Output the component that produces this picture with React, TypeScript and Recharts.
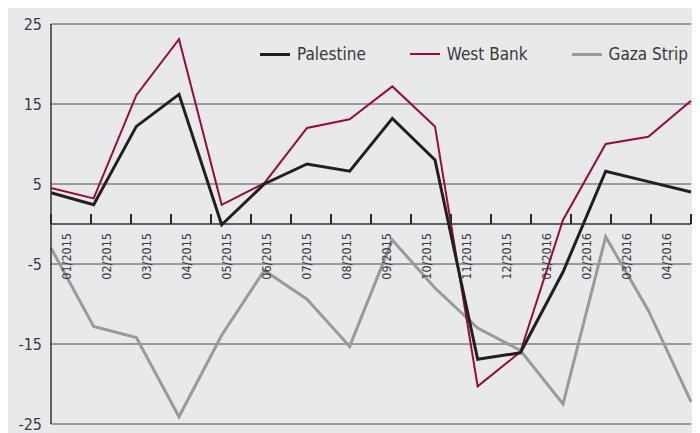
import { LineChart, Line, XAxis, YAxis, CartesianGrid, ReferenceLine } from 'recharts';

const months = [
  '01/2015', '02/2015', '03/2015', '04/2015', '05/2015', '06/2015', '07/2015', '08/2015',
  '09/2015', '10/2015', '11/2015', '12/2015', '01/2016', '02/2016', '03/2016', '04/2016',
];
const palestine = [3.9, 2.4, 12.2, 16.2, -0.1, 5.0, 7.5, 6.6, 13.2, 8.0, -16.9, -16.1, -6.0, 6.6, 5.3, 4.0];
const westBank = [4.5, 3.2, 16.1, 23.1, 2.4, 5.1, 12.0, 13.1, 17.2, 12.2, -20.3, -16.0, 0.5, 10.0, 10.9, 15.4];
const gaza = [-3.0, -12.8, -14.2, -24.1, -13.9, -5.8, -9.4, -15.3, -2.0, -8.0, -13.0, -15.8, -22.5, -1.6, -10.8, -22.2];
const yTicks = [-25, -15, -5, 5, 15, 25];

const data = months.map((m, i) => ({
  month: m,
  palestine: palestine[i],
  westBank: westBank[i],
  gaza: gaza[i],
}));

const FONT = '"DejaVu Sans Condensed", "DejaVu Sans", sans-serif';
const TEXT = '#3a3a3a';
const CHART_W = 692;
const CHART_H = 426;
const Y_W = 43;
const MARGIN = { top: 16, right: 9, bottom: 9, left: 0 };
const PLOT_H = 400;
const ZERO_Y = MARGIN.top + PLOT_H / 2;
const HALF_BAND = 20;
const TICK_LEN = 10;

const SERIES = [
  { key: 'palestine', name: 'Palestine', color: '#231f20', width: 3 },
  { key: 'westBank', name: 'West Bank', color: '#9d0a33', width: 2 },
  { key: 'gaza', name: 'Gaza Strip', color: '#9a9a9a', width: 3 },
];

// month label hanging under the zero line, with the tick mark at the category boundary
function MonthTick(props: any) {
  const { payload, index } = props;
  const x = Number(props.x);
  const ty = ZERO_Y + 9;
  const last = index === months.length - 1;
  return (
    <g>
      <rect x={x - HALF_BAND - 1} y={ZERO_Y - TICK_LEN} width={2} height={TICK_LEN} fill="#2a2a2a" />
      {last && <rect x={x + HALF_BAND - 1} y={ZERO_Y - TICK_LEN} width={2} height={TICK_LEN} fill="#2a2a2a" />}
      <text
        x={x}
        y={ty}
        transform={`rotate(-90, ${x}, ${ty})`}
        textAnchor="end"
        fill={TEXT}
        fontSize={12.5}
        fontFamily={FONT}
      >
        {payload.value}
      </text>
    </g>
  );
}

export default function App() {
  return (
    <div style={{ position: 'relative', width: 700, height: CHART_H, background: '#e8e9eb', overflow: 'hidden' }}>
      <LineChart width={CHART_W} height={CHART_H} data={data} margin={MARGIN}>
        <CartesianGrid vertical={false} stroke="#4a4a4a" strokeWidth={1} />
        <XAxis xAxisId="pt" dataKey="month" hide padding={{ left: 0, right: 0 }} />
        <XAxis
          xAxisId="lab"
          dataKey="month"
          scale="band"
          height={1}
          axisLine={false}
          tickLine={false}
          interval={0}
          tick={<MonthTick />}
        />
        <YAxis
          domain={[-25, 25]}
          ticks={yTicks}
          interval={0}
          width={Y_W}
          axisLine={{ stroke: '#333', strokeWidth: 1.5 }}
          tickLine={false}
          tickMargin={3}
          tick={{ fill: TEXT, fontSize: 16, fontFamily: FONT }}
        />
        <ReferenceLine xAxisId="pt" y={0} stroke="#333" strokeWidth={1.5} />
        {[...SERIES].reverse().map((s) => (
          <Line
            key={s.key}
            xAxisId="pt"
            type="linear"
            dataKey={s.key}
            name={s.name}
            stroke={s.color}
            strokeWidth={s.width}
            dot={false}
            activeDot={false}
            isAnimationActive={false}
          />
        ))}
      </LineChart>
      <div
        style={{
          position: 'absolute',
          top: 36,
          left: 252,
          display: 'flex',
          alignItems: 'center',
          whiteSpace: 'nowrap',
          fontFamily: FONT,
          fontSize: 17,
          color: TEXT,
        }}
      >
        {SERIES.map((s) => (
          <div key={s.key} style={{ display: 'flex', alignItems: 'center', marginRight: 44 }}>
            <span style={{ display: 'inline-block', width: 30, height: s.width, background: s.color, marginRight: 7 }} />
            <span>{s.name}</span>
          </div>
        ))}
      </div>
    </div>
  );
}
